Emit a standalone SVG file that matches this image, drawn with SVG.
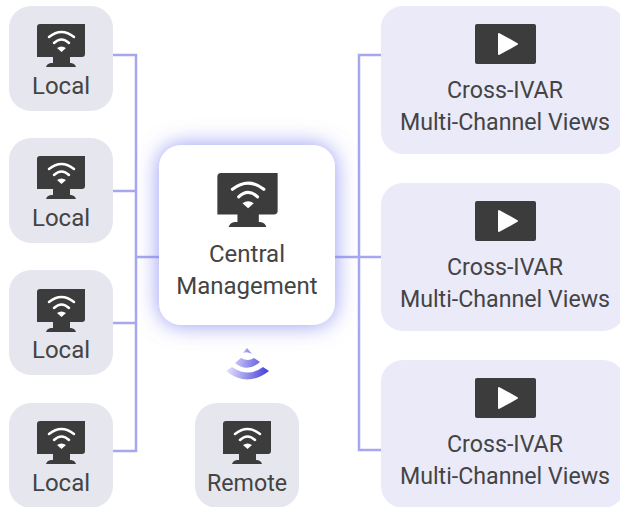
<svg xmlns="http://www.w3.org/2000/svg" width="620" height="507" viewBox="0 0 620 507">
<style>
.t{font-family:Roboto,"Liberation Sans",sans-serif;font-size:24px;fill:#444;text-anchor:middle}
.w{font-size:23.2px}
.g{fill:#e6e6ee}
.v{fill:#eaeaf9}
.c{fill:none;stroke:#a6a7ee;stroke-width:2.500}
</style>
<defs>
<filter id="glow" x="-30%" y="-30%" width="160%" height="160%"><feDropShadow dx="0" dy="0" stdDeviation="11" flood-color="#8385f0" flood-opacity="0.85"/></filter>
<linearGradient id="fan" gradientUnits="userSpaceOnUse" x1="228" y1="365" x2="268" y2="370"><stop offset="0" stop-color="#e4dffa"/><stop offset="1" stop-color="#4540da"/></linearGradient>
<symbol id="mon" viewBox="0 0 48 43" overflow="visible">
<path fill="#3c3c3c" d="M3 0H48V30Q48 33 45 33H33V39H34Q38 39.500 39 43H9Q10 39.500 14 39H16V33H0V3Q0 0 3 0Z"/>
<g fill="none" stroke="#fff" stroke-width="2.500" stroke-linecap="round"><path d="M12 13Q24.500 3 37 13"/><path d="M17 19Q24.500 12 32 19"/></g>
<path fill="#fff" d="M20 24Q24.500 21 29 24L24.500 28Z"/>
</symbol>
<symbol id="play" viewBox="0 0 61 40" overflow="visible">
<rect width="61" height="40" rx="2" fill="#3c3c3c"/>
<path fill="#fff" stroke="#fff" stroke-width="2" stroke-linejoin="round" d="M24 10V30L42 20Z"/>
</symbol>
</defs>
<rect width="620" height="507" fill="#fff"/>
<g id="connectors">
<path class="c" d="M113 55H136V451H113M113 191H136M113 323H136M136 257H159"/>
<path class="c" d="M381 55H359V450H381M359 257H381M335 257H359"/>
</g>
<g id="local-1"><rect class="g" x="9" y="6" width="104" height="105" rx="22"/><use href="#mon" x="37" y="24" width="48" height="43"/><text class="t" x="61" y="94">Local</text></g>
<g id="local-2"><rect class="g" x="9" y="138" width="104" height="105" rx="22"/><use href="#mon" x="37" y="156" width="48" height="43"/><text class="t" x="61" y="226">Local</text></g>
<g id="local-3"><rect class="g" x="9" y="270" width="104" height="105" rx="22"/><use href="#mon" x="37" y="289" width="48" height="43"/><text class="t" x="61" y="358">Local</text></g>
<g id="local-4"><rect class="g" x="9" y="403" width="104" height="105" rx="22"/><use href="#mon" x="37" y="421" width="48" height="43"/><text class="t" x="61" y="491">Local</text></g>
<g id="central"><rect x="159" y="145" width="176" height="180" rx="22" fill="#fff" filter="url(#glow)"/><use href="#mon" x="217" y="173" width="61" height="54"/><text class="t" x="247" y="262">Central</text><text class="t" x="247" y="294">Management</text></g>
<g id="signal" fill="url(#fan)">
<path d="M247 348L252 354Q247 351 243 353Z"/>
<path d="M241 358Q248 362 254 358L260 362Q247 373 235 363Z"/>
<path d="M232 367Q248 378 263 367L269 371Q247 388 226 371Z"/>
</g>
<g id="remote"><rect class="g" x="195" y="403" width="104" height="105" rx="22"/><use href="#mon" x="223" y="421" width="48" height="43"/><text class="t w" x="247" y="491">Remote</text></g>
<g id="view-1"><rect class="v" x="381" y="6" width="244" height="148" rx="22"/><use href="#play" x="475" y="24" width="61" height="40"/><text class="t w" x="505" y="98">Cross-IVAR</text><text class="t w" x="505" y="130">Multi-Channel Views</text></g>
<g id="view-2"><rect class="v" x="381" y="183" width="244" height="148" rx="22"/><use href="#play" x="475" y="201" width="61" height="40"/><text class="t w" x="505" y="275">Cross-IVAR</text><text class="t w" x="505" y="307">Multi-Channel Views</text></g>
<g id="view-3"><rect class="v" x="381" y="360" width="244" height="148" rx="22"/><use href="#play" x="475" y="378" width="61" height="40"/><text class="t w" x="505" y="452">Cross-IVAR</text><text class="t w" x="505" y="484">Multi-Channel Views</text></g>
</svg>
